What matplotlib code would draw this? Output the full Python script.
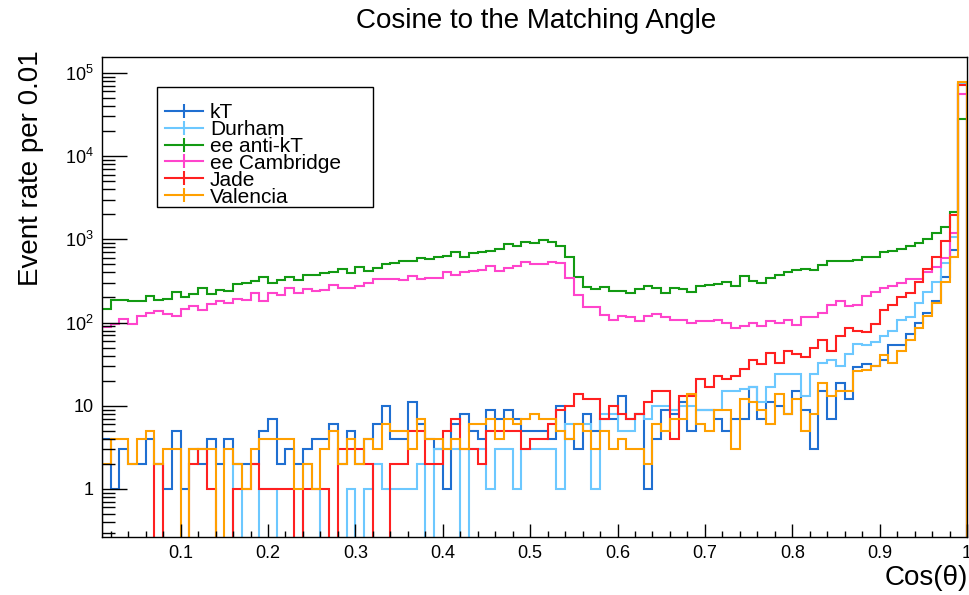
import numpy as np
import matplotlib
matplotlib.use("Agg")
import matplotlib.pyplot as plt
from matplotlib.lines import Line2D
from matplotlib.patches import Rectangle
from matplotlib.ticker import MultipleLocator, LogLocator, FuncFormatter, NullFormatter

plt.rcParams['font.family'] = ['Liberation Sans', 'DejaVu Sans']
plt.rcParams['mathtext.fontset'] = 'custom'
plt.rcParams['mathtext.rm'] = 'Liberation Sans'
plt.rcParams['mathtext.default'] = 'regular'

# bin edges: 0.01 wide bins from 0.01 to 1.0
edges = np.linspace(0.01, 1.0, 100)

algorithms = ['kT', 'Durham', 'ee anti-kT', 'ee Cambridge', 'Jade', 'Valencia']
colors = ['#1f6fd1', '#6cc8ff', '#139a13', '#ff44cc', '#ff2020', '#ffa000']

kt = [4, 1, 3, 2, 2, 4, 2, 1, 5, 1,
      3, 2, 4, 2, 4, 2, 2, 2, 5, 7,
      2, 3, 2, 3, 4, 4, 6, 2, 5, 2,
      4, 6, 10, 4, 4, 11, 6, 4, 3, 1,
      6, 8, 5, 4, 9, 7, 9, 7, 5, 5,
      5, 4, 10, 4, 3, 8, 5, 7, 7, 13,
      7, 8, 1, 4, 9, 8, 11, 5, 9, 9,
      7, 5, 7, 7, 17, 7, 11, 10, 8, 15,
      9, 3, 15, 7, 19, 12, 29, 32, 30, 35,
      54, 54, 73, 98, 129, 183, 356, 746, 74000]

durham = [0, 0, 0, 0, 0, 0, 0, 0, 0, 0,
          0, 0, 0, 0, 0, 2, 0, 0, 1, 1,
          0, 0, 0, 2, 1, 0, 0, 0, 1, 0,
          1, 2, 1, 1, 1, 1, 2, 0, 3, 3,
          3, 0, 3, 3, 1, 3, 3, 1, 3, 3,
          3, 3, 1, 6, 6, 6, 1, 8, 8, 5,
          5, 8, 7, 10, 10, 9, 10, 10, 9, 9,
          9, 15, 15, 16, 17, 11, 17, 24, 24, 24,
          13, 24, 33, 35, 30, 42, 55, 54, 59, 68,
          79, 107, 117, 171, 235, 305, 525, 1060, 75000]

ee_antikt = [146, 187, 185, 183, 183, 208, 187, 190, 235, 200,
             220, 262, 220, 245, 240, 290, 295, 316, 350, 295,
             325, 355, 325, 374, 368, 392, 410, 437, 398, 462,
             421, 449, 502, 525, 555, 550, 592, 585, 620, 638,
             712, 620, 680, 712, 731, 767, 873, 841, 922, 897,
             984, 931, 841, 620, 356, 268, 251, 268, 242, 242,
             225, 253, 275, 260, 225, 260, 253, 235, 272, 283,
             294, 310, 277, 363, 316, 301, 344, 373, 409, 429,
             435, 432, 492, 550, 550, 555, 566, 609, 615, 712,
             725, 760, 832, 914, 1020, 1183, 1422, 2150, 27700]

ee_cambridge = [89, 96, 109, 96, 121, 129, 136, 127, 120, 146,
                158, 142, 167, 183, 173, 190, 185, 225, 183, 225,
                214, 262, 225, 251, 238, 245, 283, 263, 263, 275,
                297, 334, 338, 330, 325, 367, 334, 347, 340, 402,
                373, 408, 421, 428, 483, 421, 449, 483, 540, 511,
                511, 540, 516, 341, 215, 155, 155, 123, 107, 120,
                115, 103, 120, 126, 117, 108, 107, 100, 105, 103,
                107, 100, 85, 92, 98, 92, 103, 100, 107, 94,
                116, 116, 129, 163, 183, 158, 163, 209, 231, 258,
                275, 297, 334, 334, 409, 470, 600, 1190, 55500]

jade = [0, 0, 0, 0, 0, 0, 2, 0, 0, 0,
        2, 3, 1, 0, 0, 1, 1, 2, 1, 1,
        1, 1, 0, 1, 1, 1, 0, 3, 3, 3,
        2, 0, 0, 2, 2, 5, 5, 2, 2, 5,
        7, 3, 3, 2, 5, 5, 5, 5, 3, 4,
        4, 6, 9, 10, 14, 12, 12, 7, 10, 8,
        7, 8, 11, 15, 15, 4, 13, 13, 21, 17,
        23, 21, 23, 28, 35, 32, 43, 33, 45, 42,
        39, 50, 61, 46, 68, 87, 79, 76, 96, 142,
        163, 201, 229, 310, 437, 609, 960, 1965, 72000]

valencia = [2, 4, 4, 2, 4, 5, 2, 3, 3, 0,
            3, 3, 3, 0, 3, 2, 1, 3, 4, 4,
            4, 4, 1, 2, 1, 3, 5, 2, 4, 2,
            4, 3, 6, 5, 5, 3, 7, 4, 4, 3,
            4, 3, 6, 6, 7, 4, 7, 6, 7, 8,
            7, 7, 5, 4, 6, 5, 3, 5, 3, 4,
            3, 3, 2, 6, 5, 7, 7, 14, 6, 5,
            9, 9, 3, 12, 11, 9, 6, 14, 8, 12,
            5, 8, 19, 13, 15, 15, 26, 27, 30, 41,
            33, 45, 61, 85, 120, 172, 303, 620, 77000]

series = [kt, durham, ee_antikt, ee_cambridge, jade, valencia]

W, H = 969, 595
fig = plt.figure(figsize=(W / 100, H / 100), dpi=100)
ax = fig.add_axes([102 / W, 1 - 537 / H, 865 / W, 480 / H])

for vals, col in zip(series, colors):
    ax.stairs(np.array(vals, dtype=float), edges, color=col, lw=1.5)

ax.set_yscale('log')
ax.set_xlim(0.01, 1.0)
ax.set_ylim(0.265, 1.55e5)

for sp in ax.spines.values():
    sp.set_linewidth(1.0)

ax.xaxis.set_major_locator(MultipleLocator(0.1))
ax.xaxis.set_minor_locator(MultipleLocator(0.02))
ax.xaxis.set_major_formatter(FuncFormatter(lambda v, p: f'{v:.1f}' if v < 0.95 else '1'))

def decade_label(v, pos):
    if v < 5:
        return '1'
    if v < 50:
        return '10'
    return r'$10^{%d}$' % round(np.log10(v))

ax.yaxis.set_major_locator(LogLocator(base=10, numticks=12))
ax.yaxis.set_minor_locator(LogLocator(base=10, subs=np.arange(2, 10), numticks=30))
ax.yaxis.set_major_formatter(FuncFormatter(decade_label))
ax.yaxis.set_minor_formatter(NullFormatter())

ax.tick_params(axis='x', which='major', direction='in', length=9.5, width=1,
               top=False, labelsize=13, pad=6)
ax.tick_params(axis='x', which='minor', direction='in', length=4.5, width=1, top=False)
ax.tick_params(axis='y', which='major', direction='in', length=18, width=1,
               right=False, labelsize=13, pad=6)
ax.tick_params(axis='y', which='minor', direction='in', length=9, width=1, right=False)

fig.text(536 / W, 1 - 21 / H, 'Cosine to the Matching Angle', ha='center', va='center', fontsize=20)
fig.text(31 / W, 1 - 50 / H, 'Event rate per 0.01', rotation=90, ha='center', va='top', fontsize=20)
fig.text(968 / W, 1 - 578 / H, 'Cos(θ)', ha='right', va='center', fontsize=20)

# legend box
box = Rectangle((157 / W, 1 - 207 / H), 216 / W, 119.5 / H, transform=fig.transFigure,
                facecolor='white', edgecolor='black', lw=1.0, zorder=4)
fig.add_artist(box)

handles = [Line2D([0], [0], color=c, lw=1.5, marker='|', markersize=10, mew=1.5)
           for c in colors]
fig.legend(handles, algorithms, loc='center left', bbox_to_anchor=(165 / W, 1 - 154.8 / H),
           frameon=False, borderpad=0, borderaxespad=0, handlelength=1.81,
           handletextpad=0.35, labelspacing=-0.1, fontsize=15, numpoints=1)

fig.savefig('out.png', dpi=100)
